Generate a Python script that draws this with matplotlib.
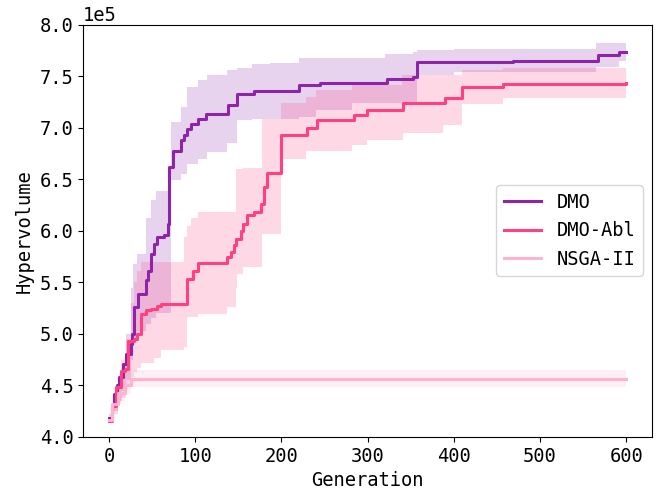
import numpy as np
import matplotlib
matplotlib.use("Agg")
from matplotlib import pyplot as plt

plt.rcParams['font.family'] = ['DejaVu Sans Mono']
plt.rcParams['font.size'] = 13.5

#DMO (values in 1e5)
dmo_gen = [0, 3, 6, 9, 12, 16, 20, 25, 27, 29, 34, 43, 45, 49, 52, 56, 64, 68, 70, 74, 83, 87, 90, 95,
           103, 113, 138, 148, 168, 220, 245, 322, 353, 357, 469, 567, 592, 600]
dmo_mean = [4.18, 4.30, 4.42, 4.50, 4.58, 4.71, 4.80, 4.90, 5.00, 5.26, 5.39, 5.52, 5.61, 5.78, 5.87, 5.94,
            5.96, 6.07, 6.62, 6.78, 6.88, 6.93, 6.99, 7.04, 7.09, 7.13, 7.22, 7.33, 7.36, 7.42, 7.44, 7.47,
            7.49, 7.64, 7.65, 7.71, 7.74, 7.74]
dmo_band_gen = [0, 5, 10, 15, 20, 25, 28, 33, 43, 49, 54, 72, 83, 91, 103, 114, 137, 148, 166, 187, 220,
                240, 282, 320, 353, 357, 400, 565, 592, 600]
dmo_lo = [4.15, 4.25, 4.35, 4.45, 4.55, 4.75, 4.95, 5.03, 5.10, 5.15, 5.20, 6.49, 6.55, 6.65, 6.70, 6.77,
          6.85, 7.08, 7.09, 7.09, 7.11, 7.17, 7.24, 7.24, 7.24, 7.51, 7.54, 7.59, 7.65, 7.65]
dmo_hi = [4.22, 4.40, 4.55, 4.70, 5.00, 5.45, 5.68, 5.78, 6.12, 6.30, 6.39, 7.06, 7.20, 7.40, 7.46, 7.51,
          7.56, 7.58, 7.62, 7.63, 7.68, 7.68, 7.68, 7.72, 7.74, 7.76, 7.77, 7.82, 7.82, 7.82]

#DMO-Abl
abl_gen = [0, 4, 8, 14, 18, 22, 29, 33, 37, 43, 49, 56, 60, 91, 97, 103, 137, 141, 145, 147, 153, 156,
           160, 168, 176, 180, 183, 199, 230, 241, 284, 299, 341, 390, 409, 457, 600]
abl_mean = [4.15, 4.30, 4.48, 4.64, 4.66, 4.93, 4.95, 5.00, 5.19, 5.23, 5.24, 5.27, 5.29, 5.53, 5.61, 5.69,
            5.75, 5.79, 5.86, 5.92, 6.00, 6.07, 6.15, 6.18, 6.26, 6.43, 6.56, 6.93, 7.00, 7.08, 7.12, 7.17,
            7.24, 7.29, 7.40, 7.43, 7.44]
abl_band_gen = [0, 5, 10, 14, 20, 25, 29, 33, 37, 52, 60, 87, 91, 95, 103, 137, 147, 149, 156, 178, 199,
                228, 240, 282, 299, 340, 341, 388, 409, 457, 600]
abl_lo = [4.13, 4.22, 4.32, 4.38, 4.50, 4.58, 4.63, 4.67, 4.72, 4.77, 4.84, 4.87, 5.16, 5.16, 5.19, 5.26,
          5.45, 5.58, 5.65, 5.97, 6.70, 6.78, 6.78, 6.83, 6.88, 6.88, 6.95, 7.03, 7.23, 7.29, 7.29]
abl_hi = [4.18, 4.40, 4.55, 4.75, 4.95, 5.30, 5.50, 5.61, 5.70, 5.70, 5.70, 5.94, 6.05, 6.12, 6.18, 6.18,
          6.60, 6.60, 6.61, 7.09, 7.24, 7.30, 7.37, 7.42, 7.42, 7.51, 7.51, 7.51, 7.56, 7.58, 7.58]

#NSGA-II
nsga_gen = [0, 4, 10, 18, 25, 600]
nsga_mean = [4.16, 4.32, 4.43, 4.50, 4.565, 4.565]
nsga_lo = [4.14, 4.25, 4.35, 4.42, 4.48, 4.48]
nsga_hi = [4.18, 4.38, 4.50, 4.58, 4.65, 4.65]

series = [
    ('DMO', '#8E24AA', dmo_gen, dmo_mean, dmo_band_gen, dmo_lo, dmo_hi),
    ('DMO-Abl', '#FF4081', abl_gen, abl_mean, abl_band_gen, abl_lo, abl_hi),
    ('NSGA-II', '#FFB3CC', nsga_gen, nsga_mean, nsga_gen, nsga_lo, nsga_hi),
]

fig = plt.figure(figsize=(6.6, 4.97), dpi=100)
ax = fig.add_subplot(111)
fig.subplots_adjust(left=0.126, right=0.988, top=0.95, bottom=0.121)

for name, col, g, m, bg, lo, hi in series:
    ax.fill_between(bg, np.array(lo)*1e5, np.array(hi)*1e5, step='post', color=col, alpha=0.2, lw=0)
    ax.plot(g, np.array(m)*1e5, drawstyle='steps-post', color=col, lw=2.2, label=name)

ax.set_xlim(-30, 630)
ax.set_ylim(4.0e5, 8.0e5)
ax.set_xticks([0, 100, 200, 300, 400, 500, 600])
ax.ticklabel_format(axis='y', style='sci', scilimits=(0, 0))
ax.set_xlabel('Generation')
ax.set_ylabel('Hypervolume')
ax.legend(loc='center right')
fig.savefig('out.png', dpi=100)
